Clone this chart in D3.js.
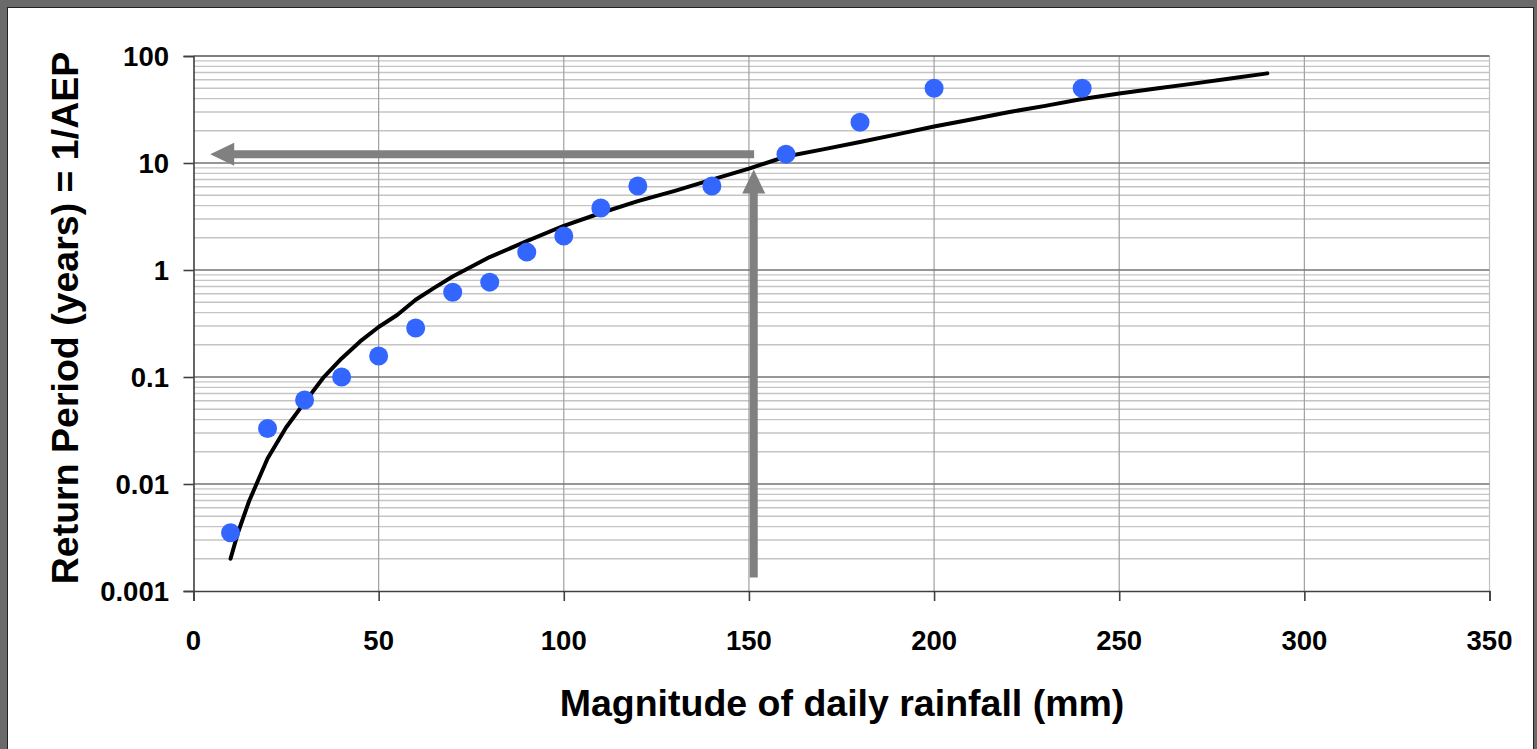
<!DOCTYPE html>
<html>
<head>
    <meta charset="utf-8">
    <title>Return Period vs Daily Rainfall</title>
    <script src="https://d3js.org/d3.v7.min.js"></script>
    <style>
        body {
            margin: 0;
            background: #6a6a6a;
            overflow: hidden;
        }
        svg text {
            font-family: "Liberation Sans", Arial, sans-serif;
            font-weight: bold;
            fill: #000;
        }
        .tick-label { font-size: 27.5px; }
        .axis-title { font-size: 37.5px; }
    </style>
</head>
<body>
    <div id="chart"></div>
    <script>
        // observed points (mm, return period in years)
        let obsRain = [10, 20, 30, 40, 50, 60, 70, 80, 90, 100, 110, 120, 140, 160, 180, 200, 240];
        let obsPeriod = [0.0035, 0.033, 0.061, 0.10, 0.157, 0.287, 0.62, 0.77, 1.47, 2.08, 3.8, 6.1, 6.1, 12.1, 24, 50, 50];

        // fitted curve
        let fitRain = [10, 12, 15, 20, 25, 30, 35, 40, 45, 50, 55, 60, 65, 70, 80, 90, 100, 110, 120, 130,
                       140, 150, 160, 170, 180, 190, 200, 210, 220, 230, 240, 250, 260, 270, 280, 290];
        let fitPeriod = [0.002, 0.0035, 0.0069, 0.0173, 0.0337, 0.058, 0.098, 0.149, 0.215, 0.293, 0.38, 0.527, 0.68, 0.87, 1.32, 1.86, 2.59, 3.41, 4.4, 5.49,
                         6.98, 8.87, 11.5, 13.4, 15.7, 18.5, 21.9, 25.5, 29.8, 34.2, 39.6, 44.7, 49.7, 55.2, 61.6, 68.8];

        // reading arrows: from [x, y] to [x, y]
        let arrowFrom = [[151.3, 0.00134], [151.4, 12.05]];
        let arrowTo = [[151.3, 8.7], [4.5, 12.05]];

        let xTicks = [0, 50, 100, 150, 200, 250, 300, 350];
        let yTicks = [0.001, 0.01, 0.1, 1, 10, 100];
        let yTickLabels = ["0.001", "0.01", "0.1", "1", "10", "100"];

        let W = 1537, H = 749;
        let svg = d3.select("#chart").append("svg").attr("width", W).attr("height", H);

        // white panel inside grey frame
        svg.append("rect")
            .attr("x", 7.5).attr("y", 7.5)
            .attr("width", 1526).attr("height", 800)
            .attr("fill", "#fff")
            .attr("stroke", "#222")
            .attr("stroke-width", 1);

        let x = d3.scaleLinear().domain([0, 350]).range([193.5, 1489.5]);
        let y = d3.scaleLog().domain([0.001, 100]).range([591, 56]);

        let grid = svg.append("g");

        // minor horizontal lines
        let minor = [];
        for (let e = -3; e < 2; e++) {
            for (let k = 2; k <= 9; k++) minor.push(k * Math.pow(10, e));
        }
        grid.selectAll(".minor").data(minor).enter().append("line")
            .attr("x1", x(0)).attr("x2", x(350))
            .attr("y1", d => y(d)).attr("y2", d => y(d))
            .attr("stroke", "#c4c4c4").attr("stroke-width", 1.4);

        // vertical grid
        grid.selectAll(".vgrid").data(xTicks.slice(1)).enter().append("line")
            .attr("x1", d => x(d)).attr("x2", d => x(d))
            .attr("y1", y(100)).attr("y2", y(0.001))
            .attr("stroke", d => d == 350 ? "#c0c0c0" : "#a0a0a0").attr("stroke-width", 1.2);

        // decade lines
        grid.selectAll(".major").data(yTicks.slice(1)).enter().append("line")
            .attr("x1", x(0)).attr("x2", x(350))
            .attr("y1", d => y(d)).attr("y2", d => y(d))
            .attr("stroke", d => d == 100 ? "#555" : "#747474").attr("stroke-width", 1.5);

        // axes
        let xAxis = d3.axisBottom(x).tickValues(xTicks).tickSize(10).tickFormat("");
        let yAxis = d3.axisLeft(y).tickValues(yTicks).tickSize(10).tickFormat("");
        let gx = svg.append("g").attr("transform", "translate(0," + y(0.001) + ")").call(xAxis);
        let gy = svg.append("g").attr("transform", "translate(" + x(0) + ",0)").call(yAxis);
        [gx, gy].forEach(function(g) {
            g.select(".domain").attr("stroke", "#404040").attr("stroke-width", 1.6);
            g.selectAll(".tick line").attr("stroke", "#404040").attr("stroke-width", 1.6);
        });

        svg.append("g").selectAll("text").data(xTicks).enter().append("text")
            .attr("class", "tick-label")
            .attr("x", d => x(d))
            .attr("y", 650)
            .attr("text-anchor", "middle")
            .text(d => d);

        svg.append("g").selectAll("text").data(yTicks).enter().append("text")
            .attr("class", "tick-label")
            .attr("x", 169)
            .attr("y", d => y(d) + 10)
            .attr("text-anchor", "end")
            .text((d, i) => yTickLabels[i]);

        // titles
        svg.append("text")
            .attr("class", "axis-title")
            .attr("x", 842)
            .attr("y", 716)
            .attr("text-anchor", "middle")
            .text("Magnitude of daily rainfall (mm)");

        svg.append("text")
            .attr("class", "axis-title")
            .attr("transform", "translate(78,318) rotate(-90)")
            .attr("text-anchor", "middle")
            .text("Return Period (years) = 1/AEP");

        // arrows (shaft + triangular head, built in pixel space)
        let arrows = arrowFrom.map((f, i) => ({ from: f, to: arrowTo[i] }));
        let headLen = 24, headHalf = 11.5, shaft = 8;
        arrows.forEach(function(a) {
            let x1 = x(a.from[0]), y1 = y(a.from[1]);
            let x2 = x(a.to[0]), y2 = y(a.to[1]);
            let len = Math.hypot(x2 - x1, y2 - y1);
            let ux = (x2 - x1) / len, uy = (y2 - y1) / len;
            let bx = x2 - ux * headLen, by = y2 - uy * headLen;
            svg.append("line")
                .attr("x1", x1).attr("y1", y1)
                .attr("x2", bx + ux).attr("y2", by + uy)
                .attr("stroke", "#808080").attr("stroke-width", shaft);
            svg.append("path")
                .attr("d", "M" + x2 + "," + y2 +
                    "L" + (bx - uy * headHalf) + "," + (by + ux * headHalf) +
                    "L" + (bx + uy * headHalf) + "," + (by - ux * headHalf) + "Z")
                .attr("fill", "#808080");
        });

        // fitted curve
        let fit = fitRain.map((r, i) => [r, fitPeriod[i]]);
        svg.append("path")
            .datum(fit)
            .attr("d", d3.line().x(d => x(d[0])).y(d => y(d[1])))
            .attr("fill", "none")
            .attr("stroke", "#000")
            .attr("stroke-width", 4)
            .attr("stroke-linejoin", "round")
            .attr("stroke-linecap", "round");

        // observed points
        let obs = obsRain.map((r, i) => [r, obsPeriod[i]]);
        svg.append("g").selectAll("circle").data(obs).enter().append("circle")
            .attr("cx", d => x(d[0]))
            .attr("cy", d => y(d[1]))
            .attr("r", 9.5)
            .attr("fill", "#3366ff");
    </script>
</body>
</html>
